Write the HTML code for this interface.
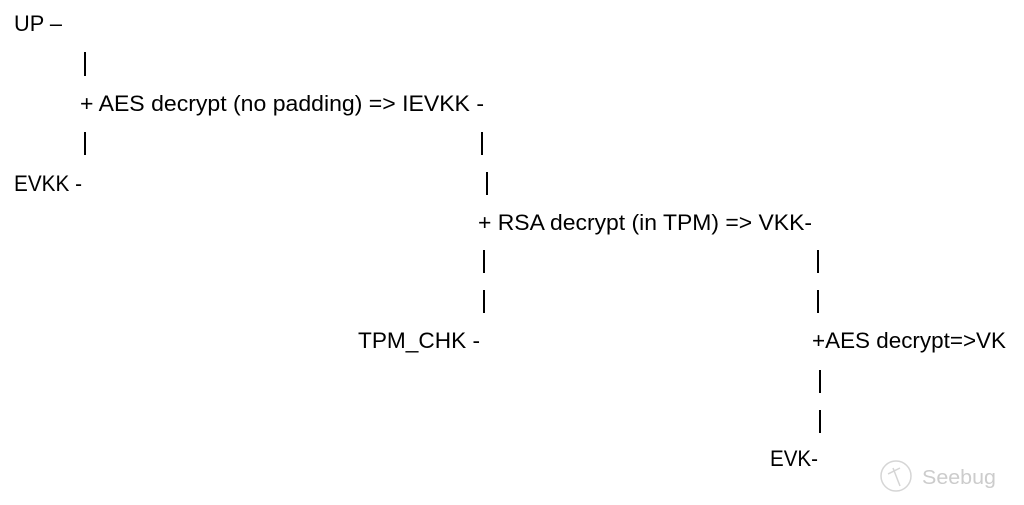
<!DOCTYPE html>
<html><head><meta charset="utf-8"><style>
html,body{margin:0;padding:0;background:#fff;width:1024px;height:505px;overflow:hidden}
svg text{font-family:"Liberation Sans",sans-serif;font-size:22px;fill:#000}
</style></head><body>
<svg width="1024" height="505" xmlns="http://www.w3.org/2000/svg">
<text x="14" y="31" textLength="48" lengthAdjust="spacingAndGlyphs">UP –</text>
<text x="80" y="111" textLength="404" lengthAdjust="spacingAndGlyphs">+ AES decrypt (no padding) =&gt; IEVKK -</text>
<text x="14" y="191" textLength="68" lengthAdjust="spacingAndGlyphs">EVKK -</text>
<text x="478" y="230" textLength="334" lengthAdjust="spacingAndGlyphs">+ RSA decrypt (in TPM) =&gt; VKK-</text>
<text x="358" y="348" textLength="122" lengthAdjust="spacingAndGlyphs">TPM_CHK -</text>
<text x="812" y="348" textLength="194" lengthAdjust="spacingAndGlyphs">+AES decrypt=&gt;VK</text>
<text x="770" y="466" textLength="48" lengthAdjust="spacingAndGlyphs">EVK-</text>
<g fill="#000">
<rect x="84" y="52" width="2" height="24"/>
<rect x="84" y="132" width="2" height="23"/>
<rect x="481" y="132" width="2" height="23"/>
<rect x="486" y="172" width="2" height="23"/>
<rect x="483" y="250" width="2" height="23"/>
<rect x="817" y="250" width="2" height="23"/>
<rect x="483" y="290" width="2" height="23"/>
<rect x="817" y="290" width="2" height="23"/>
<rect x="819" y="370" width="2" height="23"/>
<rect x="819" y="410" width="2" height="23"/>
</g>
<g opacity="0.35" fill="none" stroke="#888" stroke-width="1.5">
<circle cx="896" cy="476" r="15"/>
<path d="M893 468 L900 486 M888 474 L900 468"/>
</g>
<text x="922" y="484" style="font-size:20px;fill:#ccc" textLength="74" lengthAdjust="spacingAndGlyphs">Seebug</text>
</svg>
</body></html>
